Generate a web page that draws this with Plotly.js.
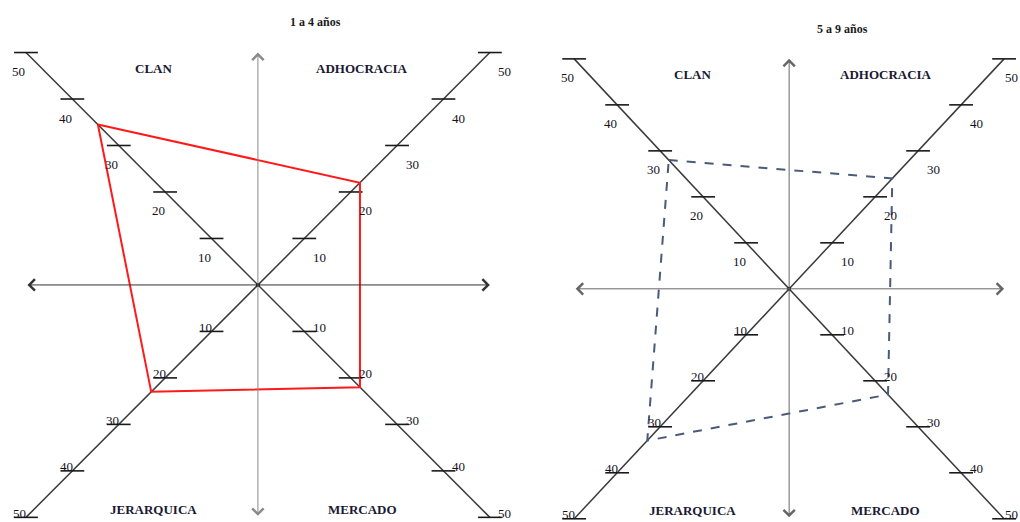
<!DOCTYPE html>
<html>
<head>
<meta charset="utf-8">
<script src="https://cdn.plot.ly/plotly-3.0.1.min.js"></script>
<style>html,body{margin:0;padding:0;background:#fff;}#chart{width:1020px;height:522px;}</style>
</head>
<body>
<div id="chart"></div>
<script>
// ---- data ----
const categories = ['CLAN', 'ADHOCRACIA', 'MERCADO', 'JERARQUICA'];
const values1a4 = [34.5, 22, 22, 23];
const values5a9 = [28, 24, 23, 33];
const tickValues = [10, 20, 30, 40, 50];
const tickLabels = ['10', '20', '30', '40', '50'];
const panelTitles = ['1 a 4 años', '5 a 9 años'];

// ---- layout helpers (directions of the four diagonal axes) ----
const dirs = {CLAN: [-1, 1], ADHOCRACIA: [1, 1], MERCADO: [1, -1], JERARQUICA: [-1, -1]};
const labelShift = {CLAN: [-7, -19], ADHOCRACIA: [15, -19], MERCADO: [15, 4], JERARQUICA: [-6, 4]};
const quadPos = {CLAN: [-22.5, 46.6], ADHOCRACIA: [22.5, 46.6], MERCADO: [22.5, -48.3], JERARQUICA: [-22.5, -48.3]};
const axMax = tickValues[tickValues.length - 1];

const serif = 'Liberation Serif, Times New Roman, serif';
const traces = [];
const annotations = [];

function panel(xa, ya, values, polyStyle, title, vertColor, horColor, edgeRight) {
  // diagonal axis lines
  traces.push({x: [-axMax, axMax], y: [axMax, -axMax], xaxis: xa, yaxis: ya, mode: 'lines',
    line: {color: '#3a3a3a', width: 1.5}, hoverinfo: 'skip'});
  traces.push({x: [-axMax, axMax], y: [-axMax, axMax], xaxis: xa, yaxis: ya, mode: 'lines',
    line: {color: '#3a3a3a', width: 1.5}, hoverinfo: 'skip'});
  // tick marks
  const tx = [], ty = [];
  categories.forEach(c => {
    tickValues.forEach(t => { tx.push(dirs[c][0] * t); ty.push(dirs[c][1] * t); });
  });
  traces.push({x: tx, y: ty, xaxis: xa, yaxis: ya, mode: 'markers',
    marker: {symbol: 'line-ew', size: 17, line: {width: 1.6, color: '#1a1a1a'}}, hoverinfo: 'skip'});
  // centre dot
  traces.push({x: [0], y: [0], xaxis: xa, yaxis: ya, mode: 'markers',
    marker: {size: 4, color: '#111'}, hoverinfo: 'skip'});
  // polygon
  const px = categories.map((c, i) => dirs[c][0] * values[i]);
  const py = categories.map((c, i) => dirs[c][1] * values[i]);
  px.push(px[0]); py.push(py[0]);
  traces.push({x: px, y: py, xaxis: xa, yaxis: ya, mode: 'lines', line: polyStyle, hoverinfo: 'skip'});

  const xr = xa, yr = ya;
  // arrows
  annotations.push({xref: xr, yref: yr, axref: xr, ayref: yr, x: 0, y: axMax, ax: 0, ay: -axMax,
    text: '', showarrow: true, arrowside: 'end+start', arrowhead: 4, arrowsize: 2.2, arrowwidth: 1,
    arrowcolor: vertColor});
  annotations.push({xref: xr, yref: yr, axref: xr, ayref: yr, x: axMax, y: 0, ax: -axMax, ay: 0,
    text: '', showarrow: true, arrowside: 'end+start', arrowhead: 4, arrowsize: 2.2, arrowwidth: 1,
    arrowcolor: horColor});
  // tick labels
  categories.forEach(c => {
    tickValues.forEach((t, k) => {
      let xs = labelShift[c][0];
      if (edgeRight && dirs[c][0] > 0 && t === axMax) xs = 7;
      annotations.push({xref: xr, yref: yr, x: dirs[c][0] * t, y: dirs[c][1] * t,
        xshift: xs, yshift: labelShift[c][1], text: tickLabels[k], showarrow: false,
        font: {family: serif, size: 13, color: '#111122'}});
    });
    annotations.push({xref: xr, yref: yr, x: quadPos[c][0], y: quadPos[c][1], text: '<b>' + c + '</b>', showarrow: false,
      font: {family: serif, size: 13, color: '#1a1a33'}});
  });
  annotations.push({xref: xr, yref: yr, x: 12.5, y: 56.5, text: '<b>' + title + '</b>', showarrow: false,
    font: {family: serif, size: 12, color: '#1a1a1a'}});
}

panel('x', 'y', values1a4, {color: '#ff1a1a', width: 2}, panelTitles[0], '#8a8a8a', '#333333', false);
panel('x2', 'y2', values5a9, {color: '#4a5b7a', width: 2, dash: 'dash'}, panelTitles[1], '#666666', '#666666', true);

const hid = {visible: false, fixedrange: true, showgrid: false, zeroline: false};
const layout = {
  width: 1020, height: 522,
  margin: {l: 0, r: 0, t: 0, b: 0},
  paper_bgcolor: '#ffffff', plot_bgcolor: '#ffffff',
  showlegend: false,
  xaxis: Object.assign({domain: [0, 520 / 1020], range: [-55.6, 56.5]}, hid),
  yaxis: Object.assign({domain: [0, 1], range: [-51.0, 61.3], anchor: 'x'}, hid),
  xaxis2: Object.assign({domain: [520 / 1020, 1], range: [-62.6, 53.7], anchor: 'y2'}, hid),
  yaxis2: Object.assign({domain: [0, 1], range: [-50.7, 62.8], anchor: 'x2'}, hid),
  annotations: annotations
};
Plotly.newPlot('chart', traces, layout, {staticPlot: true, displayModeBar: false});
</script>
</body>
</html>
